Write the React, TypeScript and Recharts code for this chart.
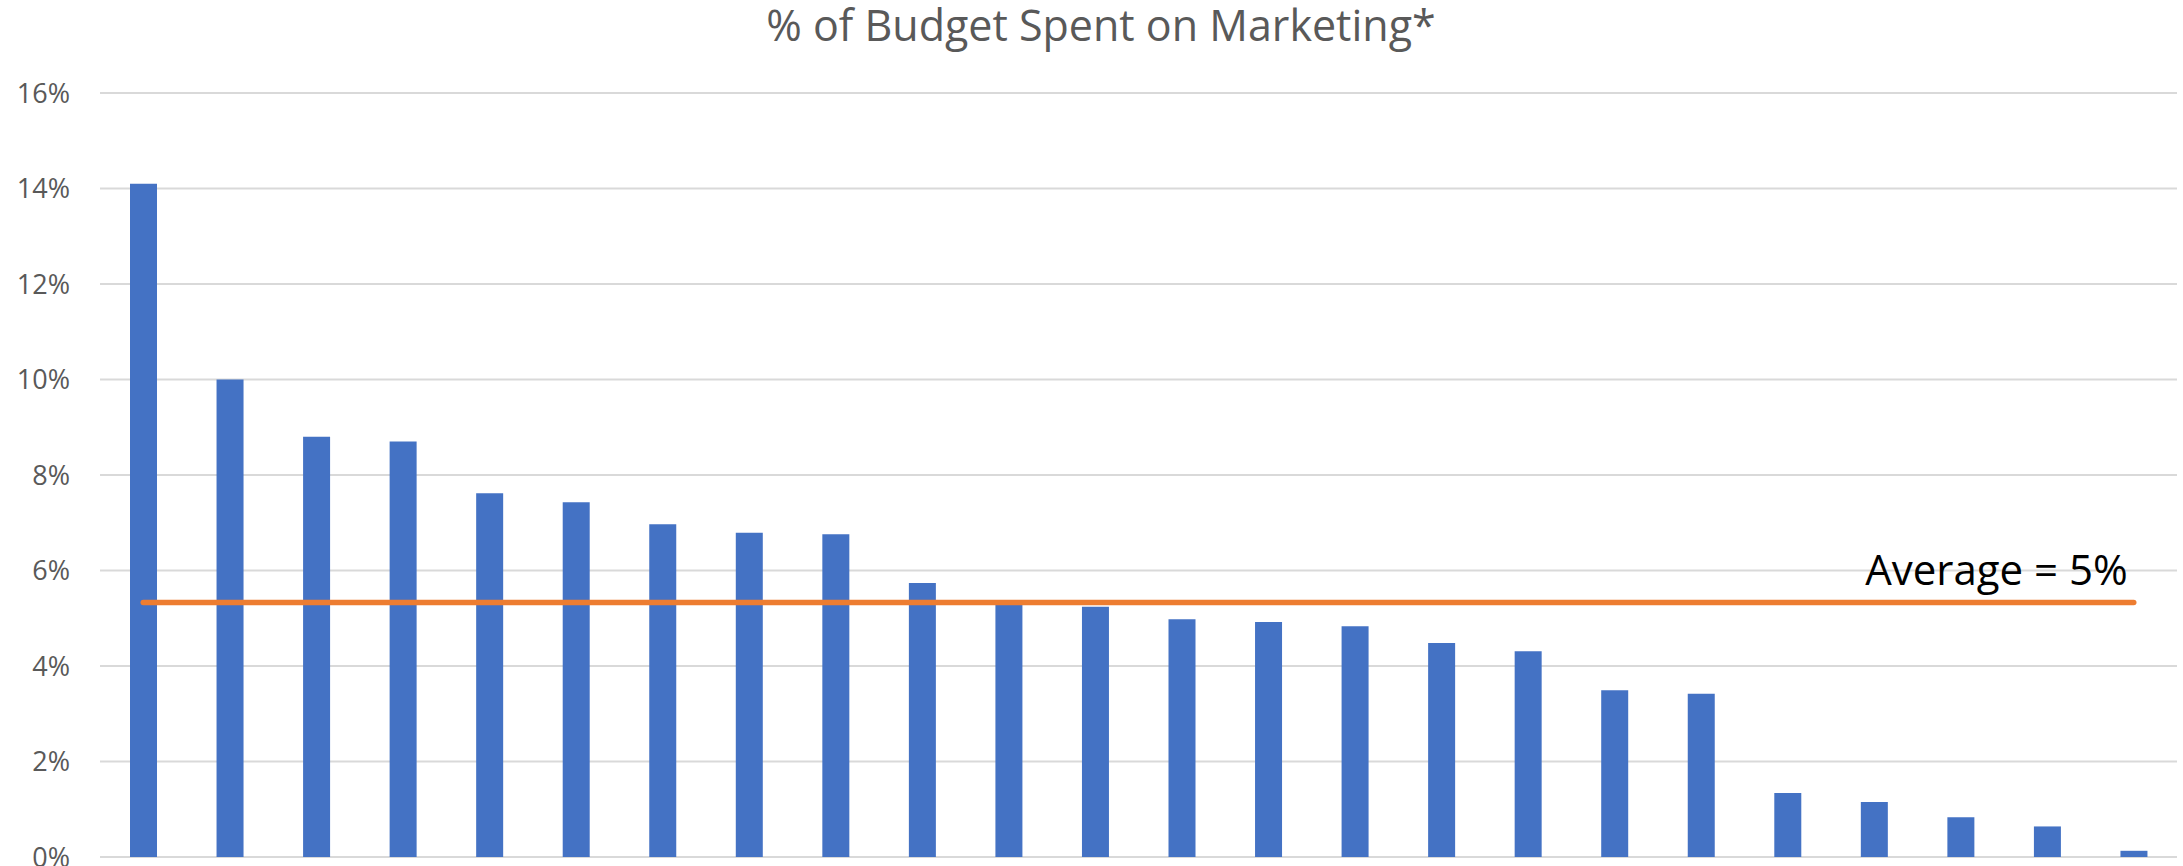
import React from 'react';
import { ComposedChart, Bar, Line, XAxis, YAxis, CartesianGrid, LabelList } from 'recharts';

// Categories (no labels shown in the chart)
const categories: string[] = [
  '1', '2', '3', '4', '5', '6', '7', '8', '9', '10', '11', '12',
  '13', '14', '15', '16', '17', '18', '19', '20', '21', '22', '23', '24',
];

// % of budget spent on marketing
const budgetShare: number[] = [
  14.1, 10.0, 8.8, 8.7, 7.62, 7.43, 6.97, 6.79, 6.76, 5.74, 5.3, 5.24,
  4.98, 4.92, 4.83, 4.48, 4.31, 3.49, 3.42, 1.34, 1.15, 0.83, 0.64, 0.13,
];

// Average line value
const averageValue = 5.33;
const averageLabel = 'Average = 5%';

const yTicks: number[] = [0, 2, 4, 6, 8, 10, 12, 14, 16];

const titleText = '% of Budget Spent on Marketing*';

const data = categories.map((name, i) => ({
  name,
  share: budgetShare[i],
  avg: averageValue,
}));

const W = 2183;
const H = 866;

const renderAvgLabel = (props: any) => {
  const { x, y, index } = props;
  if (index !== categories.length - 1) return null;
  return (
    <text
      x={Number(x) - 6}
      y={Number(y) - 17}
      textAnchor="end"
      fontFamily="'Open Sans', sans-serif"
      fontSize={42}
      fill="#000000"
    >
      {averageLabel}
    </text>
  );
};

export default function App() {
  return (
    <div style={{ position: 'absolute', left: 0, top: 0, width: W, height: H, background: '#ffffff' }}>
      <ComposedChart
        width={W}
        height={H}
        data={data}
        margin={{ top: 93, right: 6, bottom: 9, left: 0 }}
        barCategoryGap={0}
      >
        <CartesianGrid vertical={false} stroke="#d9d9d9" strokeWidth={2} />
        <XAxis dataKey="name" hide />
        <YAxis
          width={100}
          domain={[0, 16]}
          ticks={yTicks}
          interval={0}
          axisLine={false}
          tickLine={false}
          tickSize={0}
          tickMargin={30}
          tickFormatter={(v: number) => `${v}%`}
          tick={{ fill: '#595959', fontSize: 27, fontFamily: "'Open Sans', sans-serif" }}
        />
        <Bar dataKey="share" fill="#4472C4" barSize={27} isAnimationActive={false} />
        <Line
          dataKey="avg"
          stroke="#ED7D31"
          strokeWidth={5.5}
          strokeLinecap="round"
          dot={false}
          activeDot={false}
          isAnimationActive={false}
        >
          <LabelList dataKey="avg" content={renderAvgLabel} />
        </Line>
      </ComposedChart>
      <svg
        width={W}
        height={80}
        style={{ position: 'absolute', left: 0, top: 0, pointerEvents: 'none' }}
      >
        <text
          x={1101}
          y={41}
          textAnchor="middle"
          fontFamily="'Open Sans', sans-serif"
          fontSize={43}
          fill="#595959"
        >
          {titleText}
        </text>
      </svg>
    </div>
  );
}
